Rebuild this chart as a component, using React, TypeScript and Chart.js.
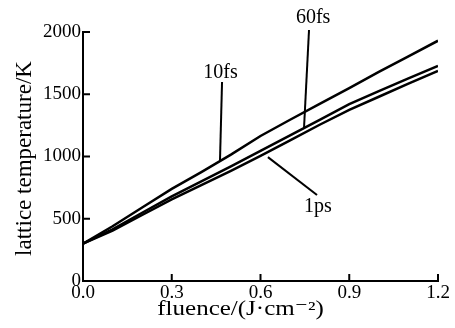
import React, { useEffect, useRef } from "react";
import { Chart, registerables } from "chart.js";

Chart.register(...registerables);

const fluence = [0, 0.1, 0.2, 0.3, 0.4, 0.5, 0.6, 0.7, 0.8, 0.9, 1.0, 1.1, 1.2];
const temp10fs = [300, 440, 590, 740, 875, 1015, 1165, 1295, 1422, 1550, 1680, 1805, 1930];
const temp60fs = [300, 415, 548, 680, 800, 920, 1045, 1170, 1295, 1420, 1525, 1627, 1727];
const temp1ps = [300, 405, 530, 655, 770, 885, 1005, 1130, 1255, 1375, 1480, 1585, 1687];

const xTicks = [0, 0.3, 0.6, 0.9, 1.2];
const yTicks = [0, 500, 1000, 1500, 2000];

// annotation labels and leader lines, in data units
const annLabels = ["10fs", "60fs", "1ps"];
const annTextPos = [
  [0.465, 1670],
  [0.778, 2112],
  [0.794, 594],
];
const annLineStart = [
  [0.47, 1598],
  [0.764, 2016],
  [0.625, 995],
];
const annLineEnd = [
  [0.463, 960],
  [0.747, 1225],
  [0.791, 691],
];

const xTitle = "fluence/(J·cm⁻²)";
const yTitle = "lattice temperature/K";

const SERIF = "'Liberation Serif', 'DejaVu Serif', serif";

export default function App() {
  const ref = useRef<HTMLCanvasElement>(null);
  useEffect(() => {
    if (!ref.current) return;
    const toPts = (ys: number[]) => fluence.map((x, i) => ({ x, y: ys[i] }));
    const decor = {
      id: "decor",
      afterDraw(chart: any) {
        const ctx = chart.ctx;
        const xs = chart.scales.x;
        const ys = chart.scales.y;
        const ca = chart.chartArea;
        ctx.save();
        ctx.strokeStyle = "#000";
        ctx.lineWidth = 2;
        // inward ticks
        xTicks.forEach((v) => {
          if (v === 0) return;
          const px = xs.getPixelForValue(v);
          ctx.beginPath();
          ctx.moveTo(px, ca.bottom);
          ctx.lineTo(px, ca.bottom - 7);
          ctx.stroke();
        });
        yTicks.forEach((v) => {
          if (v === 0) return;
          const py = ys.getPixelForValue(v);
          ctx.beginPath();
          ctx.moveTo(ca.left, py);
          ctx.lineTo(ca.left + 7, py);
          ctx.stroke();
        });
        // leader lines
        annLabels.forEach((t, i) => {
          ctx.beginPath();
          ctx.moveTo(xs.getPixelForValue(annLineStart[i][0]), ys.getPixelForValue(annLineStart[i][1]));
          ctx.lineTo(xs.getPixelForValue(annLineEnd[i][0]), ys.getPixelForValue(annLineEnd[i][1]));
          ctx.stroke();
        });
        ctx.fillStyle = "#000";
        ctx.textAlign = "center";
        ctx.textBaseline = "middle";
        ctx.font = `20px ${SERIF}`;
        annLabels.forEach((t, i) => {
          ctx.fillText(t, xs.getPixelForValue(annTextPos[i][0]), ys.getPixelForValue(annTextPos[i][1]));
        });
        // axis titles
        ctx.save();
        ctx.translate((ca.left + ca.right) / 2 - 20, ca.bottom + 29);
        ctx.scale(1.25, 1);
        ctx.font = `20px ${SERIF}`;
        ctx.fillText(xTitle, 0, 0);
        ctx.restore();
        ctx.save();
        ctx.translate(25, (ca.top + ca.bottom) / 2 + 2);
        ctx.rotate(-Math.PI / 2);
        ctx.font = `23px ${SERIF}`;
        ctx.fillText(yTitle, 0, 0);
        ctx.restore();
        ctx.restore();
      },
    };
    const lineDs = (label: string, data: number[]) => ({
      label,
      data: toPts(data),
      borderColor: "#000",
      borderWidth: 2.5,
      pointRadius: 0,
      fill: false,
      tension: 0,
    });
    const chart = new Chart(ref.current, {
      type: "line",
      data: {
        datasets: [lineDs("10fs", temp10fs), lineDs("60fs", temp60fs), lineDs("1ps", temp1ps)],
      },
      options: {
        animation: false,
        responsive: false,
        maintainAspectRatio: false,
        layout: { padding: { left: 0, right: 17, top: 32, bottom: 0 } },
        plugins: { legend: { display: false }, tooltip: { enabled: false } },
        scales: {
          x: {
            type: "linear",
            min: 0,
            max: 1.2,
            afterBuildTicks: (s: any) => {
              s.ticks = xTicks.map((v) => ({ value: v }));
            },
            afterFit: (s: any) => {
              s.height = 47;
            },
            grid: { display: false, drawTicks: false },
            border: { display: true, color: "#000", width: 2 },
            ticks: {
              color: "#000",
              font: { family: SERIF, size: 19 },
              padding: 1,
              maxRotation: 0,
              callback: (v: any) => Number(v).toFixed(1),
            },
          },
          y: {
            type: "linear",
            min: 0,
            max: 2000,
            afterBuildTicks: (s: any) => {
              s.ticks = yTicks.map((v) => ({ value: v }));
            },
            afterFit: (s: any) => {
              s.width = 83;
            },
            grid: { display: false, drawTicks: false },
            border: { display: true, color: "#000", width: 2 },
            ticks: {
              color: "#000",
              font: { family: SERIF, size: 19 },
              padding: 2,
              callback: (v: any) => String(v),
            },
          },
        },
      },
      plugins: [decor],
    });
    return () => chart.destroy();
  }, []);
  return (
    <canvas
      ref={ref}
      width={455}
      height={328}
      style={{ position: "absolute", left: 0, top: 0, width: 455, height: 328, background: "#fff" }}
    />
  );
}
